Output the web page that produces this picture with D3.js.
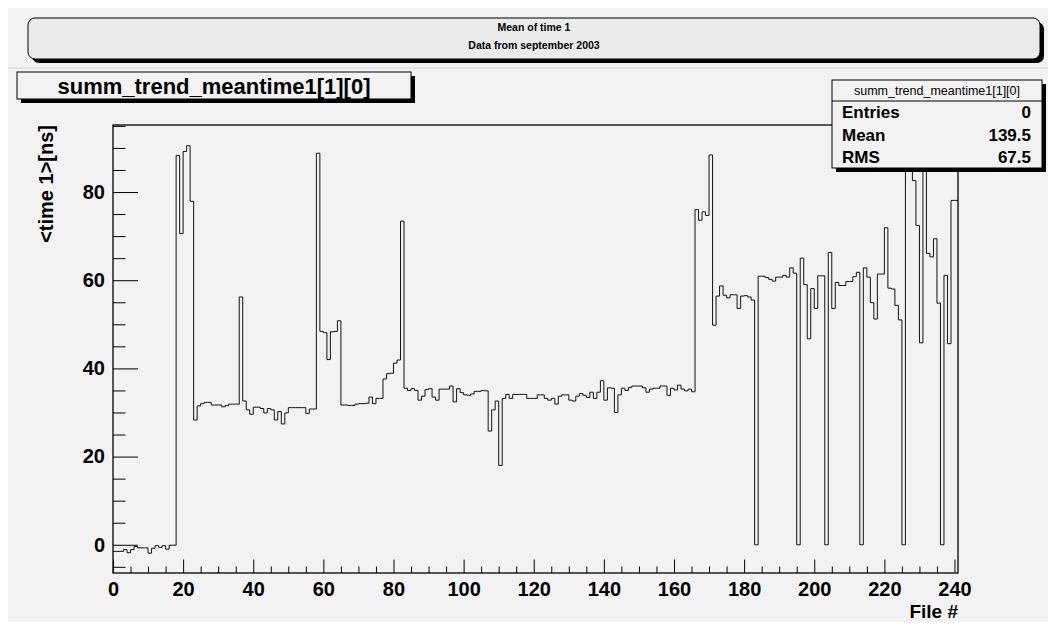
<!DOCTYPE html>
<html>
<head>
<meta charset="utf-8">
<script src="https://cdn.jsdelivr.net/npm/d3@7"></script>
<style>
  body { margin: 0; background: #ffffff; }
  text { font-family: "Liberation Sans", Arial, Helvetica, sans-serif; }
</style>
</head>
<body>
<script>
// bin contents, one value per file # (bins 0..240)
const binValues = [
  -1.5, -1.5, -1.5, -1.1, -1.8, -1.1, -0.4, -0.7, -0.7, -0.7,
  -1.9, -0.8, -0.2, -0.6, -0.2, -1.0, -0.1, -0.1, 88.3, 70.6,
  89.2, 90.5, 77.9, 28.3, 31.5, 32.0, 32.3, 32.3, 31.7, 31.7,
  31.7, 31.3, 31.6, 31.9, 31.9, 31.9, 56.2, 32.6, 30.6, 29.6,
  31.2, 31.2, 30.9, 29.9, 30.9, 30.6, 28.3, 30.2, 27.4, 29.9,
  31.1, 31.1, 31.1, 31.1, 31.1, 29.8, 30.8, 30.8, 88.8, 48.4,
  48.1, 42.0, 48.3, 48.4, 50.8, 31.7, 31.7, 31.6, 31.6, 31.9,
  32.0, 32.0, 32.1, 33.5, 32.0, 33.2, 33.2, 37.6, 38.8, 38.9,
  41.2, 41.9, 73.4, 35.5, 35.0, 35.4, 35.0, 32.8, 33.7, 35.2,
  35.4, 33.5, 32.8, 35.3, 35.3, 35.3, 36.0, 32.4, 35.4, 34.5,
  34.0, 33.9, 34.2, 34.8, 34.8, 35.0, 34.9, 25.8, 30.6, 32.6,
  18.0, 33.2, 34.1, 33.2, 34.1, 34.1, 34.1, 34.1, 33.2, 33.2,
  33.2, 34.0, 34.0, 33.2, 32.8, 33.2, 31.9, 33.7, 34.0, 34.0,
  32.8, 32.6, 33.7, 34.3, 33.9, 33.4, 34.6, 33.2, 34.6, 37.2,
  32.8, 35.6, 35.5, 30.0, 34.0, 35.5, 35.0, 35.7, 36.0, 36.0,
  36.0, 35.6, 34.6, 35.3, 35.5, 35.5, 36.0, 36.0, 33.9, 35.5,
  35.1, 36.2, 35.3, 34.9, 35.3, 34.7, 76.0, 73.6, 75.5, 74.7,
  88.4, 49.8, 56.4, 58.7, 56.6, 56.0, 56.7, 56.7, 53.6, 56.4,
  56.5, 56.2, 55.5, 0.0, 60.9, 60.9, 60.6, 60.2, 59.8, 60.7,
  60.7, 61.1, 60.7, 62.8, 61.6, 0.0, 65.0, 59.0, 46.7, 58.1,
  53.6, 61.0, 61.0, 0.0, 66.3, 53.6, 59.5, 58.8, 58.8, 59.7,
  59.7, 60.8, 61.8, 0.0, 62.8, 60.7, 54.9, 51.2, 61.4, 61.4,
  71.9, 58.2, 58.0, 54.3, 51.0, 0.0, 91.0, 90.0, 82.6, 72.4,
  45.8, 92.0, 66.1, 65.3, 69.4, 54.8, 0.0, 61.1, 45.6, 78.1,
  78.1
];
const xTickLabels = [0, 20, 40, 60, 80, 100, 120, 140, 160, 180, 200, 220, 240];
const yTickLabels = [0, 20, 40, 60, 80];
const titleLines = ["Mean of time 1", "Data from september 2003"];
const histName = "summ_trend_meantime1[1][0]";
const statNames = ["Entries", "Mean", "RMS"];
const statValues = ["0", "139.5", "67.5"];

const frame = {left: 113, right: 958, top: 125, bottom: 573};

var svg = d3.select("body")
  .append("svg")
  .attr("width", 1050)
  .attr("height", 625);

// canvas background
svg.append("rect")
  .attr("x", 8).attr("y", 8)
  .attr("width", 1040).attr("height", 614)
  .attr("fill", "#f2f2f2");

svg.append("line")
  .attr("x1", 8).attr("x2", 1048)
  .attr("y1", 68).attr("y2", 68)
  .attr("stroke", "#d6d6d6");

// title pave
svg.append("rect")
  .attr("x", 32).attr("y", 22)
  .attr("width", 1012).attr("height", 41)
  .attr("rx", 7)
  .attr("fill", "#000");
svg.append("rect")
  .attr("x", 28).attr("y", 18)
  .attr("width", 1012).attr("height", 41)
  .attr("rx", 7)
  .attr("fill", "#ebebeb")
  .attr("stroke", "#000");

svg.selectAll(".titleLine")
  .data(titleLines)
  .enter()
  .append("text")
  .attr("class", "titleLine")
  .attr("x", 534)
  .attr("y", (d, i) => 31 + i * 18)
  .style("text-anchor", "middle")
  .style("font-size", "10.5px")
  .style("font-weight", "bold")
  .text(d => d);

// histogram name box
svg.append("rect")
  .attr("x", 21).attr("y", 76)
  .attr("width", 394).attr("height", 27)
  .attr("fill", "#000");
svg.append("rect")
  .attr("x", 17).attr("y", 72)
  .attr("width", 394).attr("height", 27)
  .attr("fill", "#f2f2f2")
  .attr("stroke", "#000");
svg.append("text")
  .attr("x", 214).attr("y", 94)
  .style("text-anchor", "middle")
  .style("font-size", "22px")
  .style("font-weight", "bold")
  .text(histName);

const x = d3.scaleLinear()
  .domain([0, binValues.length])
  .range([frame.left, frame.right]);

const y = d3.scaleLinear()
  .domain([-6.4, 95.2])
  .range([frame.bottom, frame.top]);

var plot = svg.append("g");

svg.append("clipPath")
  .attr("id", "frameClip")
  .append("rect")
  .attr("x", frame.left).attr("y", frame.top)
  .attr("width", frame.right - frame.left)
  .attr("height", frame.bottom - frame.top);

// minor ticks every 5
var xMinor = d3.range(0, 241, 5).filter(v => v % 20 != 0);
var yMinor = d3.range(-5, 96, 5).filter(v => v % 20 != 0);

plot.append("g")
  .attr("transform", `translate(0, ${frame.bottom})`)
  .call(d3.axisBottom(x).tickValues(xMinor).tickSize(-6.5).tickFormat(""))
  .call(g => g.select(".domain").remove());

plot.append("g")
  .attr("transform", `translate(0, ${frame.bottom})`)
  .call(d3.axisBottom(x).tickValues(xTickLabels).tickSize(-13.5).tickPadding(9))
  .call(g => g.select(".domain").remove())
  .selectAll("text")
  .style("font-size", "20px")
  .style("font-weight", "bold")
  .attr("fill", "#000");

plot.append("g")
  .attr("transform", `translate(${frame.left}, 0)`)
  .call(d3.axisLeft(y).tickValues(yMinor).tickSize(-12.5).tickFormat(""))
  .call(g => g.select(".domain").remove());

plot.append("g")
  .attr("transform", `translate(${frame.left}, 0)`)
  .call(d3.axisLeft(y).tickValues(yTickLabels).tickSize(-25).tickPadding(8))
  .call(g => g.select(".domain").remove())
  .selectAll("text")
  .style("font-size", "20px")
  .style("font-weight", "bold")
  .attr("fill", "#000");

plot.selectAll(".tick line").attr("stroke", "#000");

// histogram drawn as steps
var points = binValues.map((v, i) => [i, v]);
points.push([binValues.length, binValues[binValues.length - 1]]);

var stepLine = d3.line()
  .x(d => x(d[0]))
  .y(d => y(d[1]))
  .curve(d3.curveStepAfter);

plot.append("path")
  .datum(points)
  .attr("clip-path", "url(#frameClip)")
  .attr("d", stepLine)
  .attr("fill", "none")
  .attr("stroke", "#111")
  .attr("stroke-width", 1);

plot.append("rect")
  .attr("x", frame.left).attr("y", frame.top)
  .attr("width", frame.right - frame.left)
  .attr("height", frame.bottom - frame.top)
  .attr("fill", "none")
  .attr("stroke", "#000")
  .attr("stroke-width", 1.3);

// axis titles
svg.append("text")
  .attr("x", frame.right).attr("y", 618)
  .style("text-anchor", "end")
  .style("font-size", "19px")
  .style("font-weight", "bold")
  .text("File #");

svg.append("text")
  .attr("transform", `translate(53, ${frame.top}) rotate(-90)`)
  .style("text-anchor", "end")
  .style("font-size", "20px")
  .style("font-weight", "bold")
  .text("<time 1>[ns]");

// stats box
var stats = svg.append("g");
stats.append("rect")
  .attr("x", 836).attr("y", 84)
  .attr("width", 210).attr("height", 88)
  .attr("fill", "#000");
stats.append("rect")
  .attr("x", 832).attr("y", 80)
  .attr("width", 210).attr("height", 88)
  .attr("fill", "#f2f2f2")
  .attr("stroke", "#000");
stats.append("line")
  .attr("x1", 832).attr("x2", 1042)
  .attr("y1", 101).attr("y2", 101)
  .attr("stroke", "#000");
stats.append("text")
  .attr("x", 937).attr("y", 95)
  .style("text-anchor", "middle")
  .style("font-size", "12.5px")
  .text(histName);

stats.selectAll(".statName")
  .data(statNames)
  .enter()
  .append("text")
  .attr("class", "statName")
  .attr("x", 842)
  .attr("y", (d, i) => 118 + i * 22.5)
  .style("font-size", "17px")
  .style("font-weight", "bold")
  .text(d => d);

stats.selectAll(".statValue")
  .data(statValues)
  .enter()
  .append("text")
  .attr("class", "statValue")
  .attr("x", 1031)
  .attr("y", (d, i) => 118 + i * 22.5)
  .style("text-anchor", "end")
  .style("font-size", "17px")
  .style("font-weight", "bold")
  .text(d => d);
</script>
</body>
</html>
